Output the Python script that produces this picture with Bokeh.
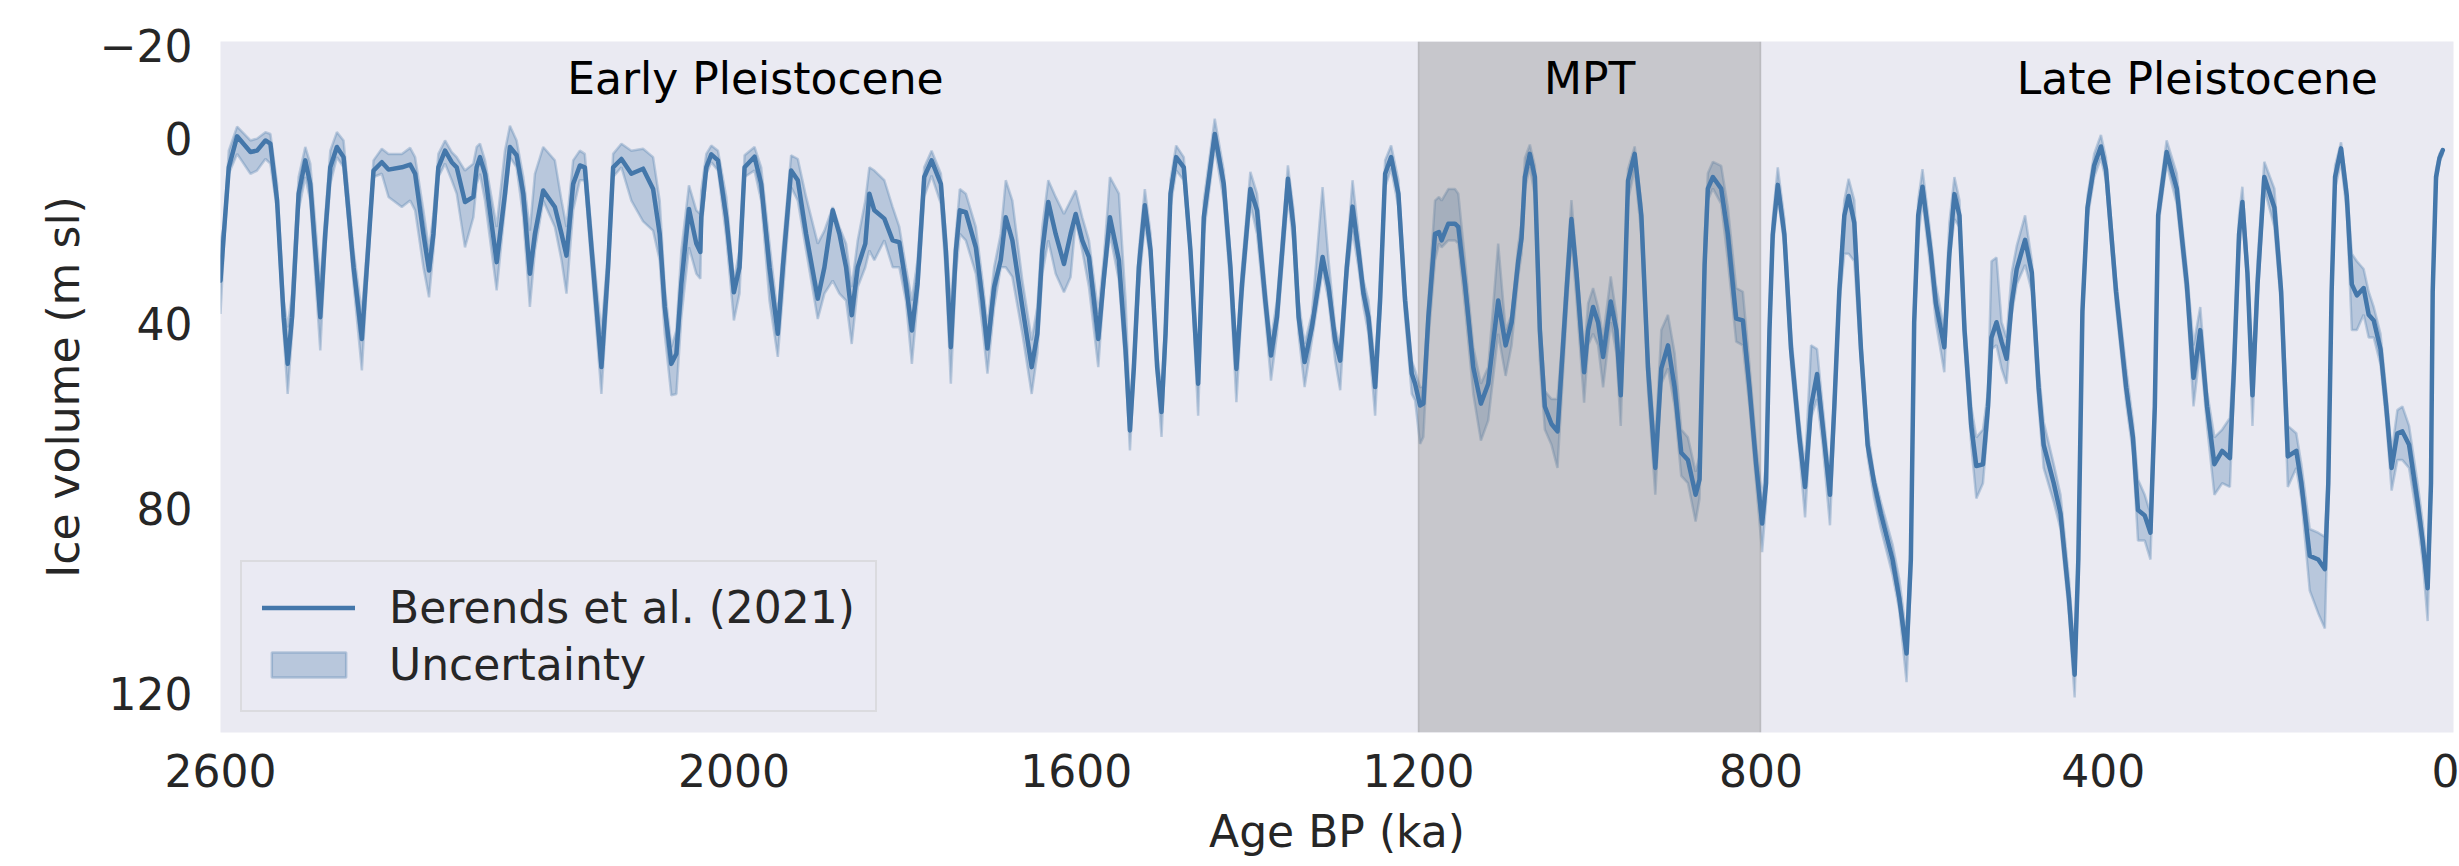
from bokeh.plotting import figure
from bokeh.models import Range1d, FixedTicker, Legend, LegendItem, Label
from bokeh.embed import file_html
from bokeh.resources import INLINE

# ---------------- data ----------------
AGE_KA = [
    2600.0, 2596.1, 2590.3, 2580.6, 2565.0, 2557.3, 2547.5, 2541.7, 2533.9, 2526.2,
    2521.5, 2516.4, 2508.7, 2500.9, 2495.1, 2483.4, 2477.6, 2471.7, 2464.0, 2456.2,
    2444.5, 2434.8, 2429.0, 2421.2, 2411.5, 2403.7, 2388.1, 2378.4, 2372.6, 2362.9,
    2356.3, 2351.2, 2345.4, 2337.6, 2329.8, 2324.0, 2314.3, 2304.5, 2300.7, 2296.8,
    2290.9, 2277.3, 2267.6, 2261.8, 2254.0, 2246.2, 2238.5, 2232.6, 2222.9, 2209.3,
    2201.5, 2195.7, 2187.9, 2180.1, 2174.3, 2164.6, 2154.9, 2147.1, 2141.2, 2131.5,
    2119.9, 2106.2, 2094.5, 2086.8, 2080.9, 2073.2, 2067.3, 2061.5, 2052.6, 2044.0,
    2039.3, 2038.2, 2032.3, 2026.5, 2018.7, 2009.0, 2000.1, 1993.5, 1987.6, 1976.0,
    1968.2, 1958.5, 1948.8, 1942.9, 1933.2, 1925.4, 1915.7, 1902.1, 1894.3, 1884.6,
    1876.8, 1869.0, 1862.4, 1855.4, 1846.5, 1841.8, 1836.0, 1824.3, 1814.6, 1806.8,
    1799.1, 1792.1, 1785.5, 1777.7, 1769.1, 1758.2, 1752.4, 1746.6, 1740.7, 1736.1,
    1729.1, 1717.4, 1709.6, 1703.8, 1696.0, 1688.3, 1682.4, 1674.7, 1663.0, 1652.1,
    1645.5, 1639.7, 1632.7, 1624.1, 1614.4, 1606.6, 1600.7, 1593.0, 1585.2, 1574.3,
    1567.7, 1560.7, 1550.2, 1542.4, 1537.3, 1532.7, 1526.9, 1519.9, 1513.2, 1505.5,
    1500.4, 1495.7, 1489.9, 1483.3, 1474.4, 1466.6, 1457.6, 1451.0, 1438.2, 1427.7,
    1419.9, 1412.9, 1406.3, 1396.6, 1388.8, 1379.1, 1372.5, 1365.5, 1352.7, 1346.1,
    1340.2, 1333.2, 1324.7, 1312.2, 1305.2, 1297.5, 1291.6, 1283.9, 1277.2, 1270.3,
    1264.4, 1258.6, 1250.8, 1245.0, 1239.1, 1232.1, 1223.6, 1215.8, 1208.0, 1204.1,
    1198.3, 1194.4, 1188.6, 1180.8, 1176.2, 1173.1, 1165.3, 1157.5, 1153.6, 1145.8,
    1136.1, 1127.2, 1118.6, 1107.0, 1098.3, 1091.3, 1083.6, 1079.7, 1075.8, 1070.0,
    1064.1, 1058.3, 1052.5, 1044.7, 1037.7, 1033.0, 1027.2, 1021.4, 1015.5, 1006.6,
    1001.9, 996.1, 990.3, 984.4, 975.5, 968.9, 963.8, 959.2, 955.3, 947.5,
    939.7, 931.9, 923.4, 916.4, 908.6, 900.8, 893.1, 885.3, 876.3, 871.7,
    865.8, 862.0, 856.1, 846.4, 838.6, 828.9, 821.1, 813.4, 805.6, 798.6,
    794.0, 790.0, 786.2, 780.3, 772.6, 764.8, 755.0, 748.4, 741.4, 734.4,
    727.8, 719.3, 714.2, 708.4, 702.5, 697.5, 690.9, 683.1, 675.3, 667.6,
    659.8, 646.2, 638.4, 629.8, 624.8, 620.9, 616.2, 611.2, 601.4, 595.6,
    585.7, 579.8, 573.9, 568.0, 562.1, 554.2, 548.3, 540.5, 534.6, 530.6,
    524.7, 518.8, 512.9, 507.0, 501.1, 491.3, 483.4, 475.5, 469.6, 457.8,
    449.9, 440.1, 433.4, 429.1, 424.3, 418.4, 410.6, 402.7, 396.8, 385.0,
    373.2, 365.3, 359.4, 351.5, 344.8, 339.7, 335.8, 325.9, 314.1, 302.3,
    294.5, 286.6, 278.7, 270.1, 261.0, 252.0, 247.2, 241.3, 237.4, 231.5,
    225.6, 219.7, 211.8, 200.0, 192.1, 184.3, 174.4, 168.5, 158.7, 148.8,
    141.0, 137.0, 133.1, 129.1, 122.1, 115.4, 109.5, 103.6, 95.7, 89.8,
    83.9, 76.0, 69.3, 63.0, 56.3, 50.4, 42.6, 32.7, 26.8, 20.9,
    17.0, 15.0, 11.1, 7.1, 3.2,
]

ICE_MEAN = [
    30.8, 20.7, 6.3, -0.4, 3.0, 2.7, 0.5, 1.2, 13.5, 38.7,
    48.8, 38.7, 12.0, 4.8, 9.9, 38.7, 20.7, 6.3, 1.9, 4.1,
    27.9, 43.4, 27.9, 7.0, 5.2, 6.8, 6.3, 5.7, 7.7, 20.7,
    28.6, 20.7, 6.3, 2.7, 5.2, 6.3, 13.8, 12.7, 6.3, 4.1,
    7.7, 26.8, 12.0, 1.9, 3.7, 12.0, 29.3, 20.7, 11.3, 14.9,
    20.7, 25.4, 9.9, 5.9, 6.3, 27.9, 49.5, 27.9, 6.3, 4.5,
    7.7, 6.6, 11.0, 20.7, 36.5, 48.8, 46.6, 31.5, 15.3, 22.8,
    24.6, 17.1, 6.3, 3.5, 4.8, 17.1, 33.3, 27.9, 6.3, 4.0,
    9.9, 27.9, 42.3, 27.9, 7.0, 9.1, 20.7, 34.7, 27.9, 15.6,
    20.7, 27.9, 38.3, 27.9, 22.8, 12.0, 15.6, 17.4, 22.1, 22.5,
    31.5, 41.6, 31.5, 8.4, 4.8, 9.9, 24.3, 45.2, 24.3, 15.6,
    16.0, 23.6, 35.1, 45.5, 32.2, 26.4, 17.1, 22.1, 36.5, 49.5,
    42.3, 24.3, 13.8, 20.7, 27.2, 20.7, 16.4, 22.1, 25.7, 43.4,
    30.0, 17.1, 26.4, 45.9, 63.2, 49.5, 27.9, 14.5, 24.3, 49.5,
    59.2, 42.3, 12.0, 4.1, 6.3, 24.3, 53.1, 17.1, -0.9, 9.9,
    27.9, 49.9, 31.5, 11.0, 15.6, 35.1, 47.0, 38.7, 8.8, 19.2,
    38.7, 48.4, 40.9, 25.7, 32.2, 43.7, 48.1, 27.9, 14.8, 24.3,
    33.6, 38.7, 53.8, 35.1, 7.7, 4.1, 12.0, 35.1, 50.9, 53.1,
    57.8, 57.4, 38.7, 20.7, 20.3, 22.1, 18.5, 18.5, 19.2, 31.5,
    49.5, 57.4, 53.1, 35.1, 44.8, 39.8, 26.6, 21.6, 8.4, 3.4,
    8.4, 41.5, 58.0, 61.8, 63.4, 49.8, 33.2, 17.5, 29.1, 50.6,
    41.5, 36.5, 39.8, 47.3, 35.3, 41.5, 55.6, 33.2, 9.2, 3.4,
    16.7, 49.8, 71.3, 49.8, 44.8, 53.9, 68.0, 69.6, 77.1, 73.8,
    27.4, 10.9, 8.4, 10.9, 20.8, 39.0, 39.4, 53.9, 70.5, 83.3,
    74.6, 41.5, 20.8, 10.1, 20.8, 45.6, 64.7, 75.4, 58.0, 51.0,
    62.2, 77.1, 58.0, 33.2, 16.7, 12.5, 18.3, 45.6, 66.3, 74.6,
    81.2, 91.1, 99.4, 111.4, 91.1, 39.8, 16.7, 10.5, 25.0, 35.7,
    45.2, 25.0, 12.1, 16.7, 41.5, 62.2, 70.9, 70.5, 58.0, 43.1,
    39.8, 44.0, 47.7, 35.7, 28.3, 22.0, 29.1, 53.9, 66.3, 74.6,
    81.2, 99.4, 116.0, 91.1, 37.4, 15.0, 5.9, 1.8, 6.7, 33.2,
    53.9, 64.7, 80.4, 81.6, 85.3, 58.0, 16.7, 3.0, 10.9, 31.6,
    51.8, 41.5, 58.0, 70.5, 67.6, 69.2, 49.8, 20.8, 13.8, 29.1,
    55.6, 31.6, 8.4, 15.0, 33.2, 68.8, 67.6, 74.6, 90.3, 91.1,
    93.2, 74.6, 33.2, 8.4, 2.2, 12.5, 31.6, 34.0, 32.4, 38.2,
    39.4, 45.6, 58.0, 71.3, 63.8, 63.4, 66.3, 78.7, 87.0, 97.3,
    74.6, 33.2, 8.4, 4.3, 2.6,
]

ICE_BAND_MIN = [
    22.1, 19.2, 2.7, -2.5, 0.5, 0.1, -1.3, -0.9, 9.9, 35.1,
    40.9, 33.6, 8.4, 1.9, 5.5, 31.5, 17.1, 2.7, -1.3, 0.5,
    24.3, 38.0, 24.3, 4.8, 2.3, 3.4, 3.4, 2.1, 4.1, 15.6,
    24.3, 16.4, 3.4, 0.5, 3.0, 4.1, 7.0, 5.5, 1.9, 1.2,
    4.8, 19.2, 2.7, -2.7, 0.5, 8.4, 20.0, 7.7, 1.9, 4.8,
    13.5, 19.2, 4.8, 2.7, 3.4, 24.3, 42.3, 24.3, 3.4, 1.2,
    2.7, 2.3, 4.1, 13.5, 32.2, 45.2, 41.6, 24.3, 10.2, 15.6,
    16.4, 11.3, 3.4, 1.6, 2.7, 12.7, 30.8, 24.3, 3.7, 1.9,
    6.3, 22.8, 38.7, 23.6, 3.7, 4.5, 12.7, 22.8, 20.0, 14.9,
    19.2, 22.8, 32.2, 22.1, 13.5, 6.3, 7.0, 9.1, 14.9, 19.2,
    27.9, 35.1, 26.4, 6.3, 2.7, 7.7, 20.7, 36.5, 20.7, 11.0,
    12.0, 19.2, 30.8, 40.9, 27.9, 20.7, 9.1, 13.5, 30.8, 43.7,
    36.5, 19.2, 9.1, 12.7, 16.4, 13.5, 11.3, 17.1, 22.1, 38.0,
    25.7, 8.4, 12.0, 35.1, 59.6, 46.6, 24.3, 11.0, 20.7, 46.6,
    55.3, 38.7, 9.1, 1.6, 4.1, 22.1, 49.5, 13.5, -4.2, 7.0,
    25.0, 45.9, 27.9, 7.3, 12.0, 31.5, 43.7, 35.1, 5.9, 15.6,
    35.1, 44.5, 38.0, 10.6, 26.4, 40.9, 45.2, 25.0, 9.1, 20.7,
    30.8, 35.1, 49.5, 31.5, 4.8, 1.6, 9.1, 32.2, 48.1, 50.2,
    53.8, 53.8, 35.1, 13.5, 12.7, 13.5, 11.0, 11.0, 12.0, 26.4,
    45.2, 53.1, 49.5, 22.8, 41.5, 38.2, 23.3, 18.3, 4.3, 1.4,
    6.0, 38.2, 54.7, 56.4, 56.4, 45.6, 29.1, 13.4, 26.6, 46.5,
    35.7, 32.4, 36.5, 43.1, 29.9, 38.2, 49.8, 29.9, 6.7, 1.8,
    14.2, 46.5, 66.3, 41.5, 38.2, 46.5, 63.0, 64.7, 72.1, 68.8,
    21.6, 7.6, 5.1, 6.0, 15.0, 32.4, 33.2, 49.0, 66.3, 77.9,
    70.5, 38.2, 17.5, 6.3, 17.5, 42.3, 61.3, 71.3, 44.8, 45.6,
    58.0, 73.8, 54.7, 30.7, 13.4, 8.8, 13.4, 43.1, 63.0, 73.0,
    78.7, 87.8, 95.3, 107.7, 87.0, 36.5, 13.4, 6.7, 21.6, 31.6,
    41.5, 18.3, 8.4, 13.4, 38.2, 58.0, 64.7, 63.0, 54.7, 26.6,
    25.8, 39.8, 43.1, 29.1, 23.3, 16.7, 26.6, 49.8, 61.3, 70.5,
    77.1, 95.3, 111.8, 87.0, 34.9, 12.5, 3.4, -0.7, 4.3, 30.7,
    49.8, 61.3, 73.8, 77.1, 81.2, 54.7, 14.2, 0.5, 7.6, 28.3,
    44.8, 36.5, 54.7, 64.7, 63.0, 60.5, 45.6, 16.7, 10.5, 26.6,
    53.1, 26.6, 5.1, 10.9, 29.9, 62.2, 63.8, 70.5, 84.5, 85.3,
    86.2, 71.3, 30.7, 6.0, 0.9, 10.1, 25.0, 26.6, 28.3, 33.2,
    36.5, 42.3, 54.7, 68.0, 58.8, 58.0, 62.2, 74.6, 82.9, 93.6,
    71.3, 31.6, 6.7, 3.4, 2.2,
]

ICE_BAND_MAX = [
    38.0, 23.6, 7.7, 3.4, 7.7, 7.0, 4.5, 5.5, 15.6, 42.3,
    55.3, 42.3, 15.6, 8.4, 13.5, 45.9, 24.3, 9.9, 4.1, 6.3,
    31.5, 50.2, 31.5, 8.4, 7.7, 12.7, 14.9, 13.5, 15.6, 27.9,
    34.4, 24.3, 8.4, 5.5, 9.1, 12.0, 23.6, 17.1, 9.9, 7.7,
    13.5, 32.9, 14.9, 4.1, 6.3, 17.1, 36.5, 24.3, 13.5, 19.2,
    26.4, 33.6, 15.6, 9.1, 9.1, 32.2, 55.3, 32.2, 8.4, 6.3,
    13.5, 18.0, 20.0, 26.4, 42.3, 55.6, 55.3, 38.7, 23.6, 29.3,
    30.4, 20.7, 7.7, 5.2, 7.0, 21.4, 39.4, 33.6, 8.4, 7.0,
    13.5, 35.1, 47.3, 33.6, 10.6, 13.5, 24.3, 39.1, 33.6, 30.8,
    33.6, 35.1, 44.5, 32.2, 27.9, 24.3, 26.4, 22.1, 27.9, 27.9,
    35.1, 48.8, 35.1, 12.7, 8.1, 14.2, 29.3, 53.1, 29.3, 20.7,
    22.1, 29.3, 40.9, 50.9, 36.5, 27.9, 27.9, 30.0, 42.3, 55.3,
    46.6, 29.3, 22.1, 29.3, 33.3, 30.0, 17.8, 24.3, 32.2, 49.5,
    32.2, 20.7, 30.8, 49.5, 67.5, 51.7, 32.2, 18.5, 26.4, 51.7,
    64.6, 45.9, 14.9, 7.0, 9.1, 25.7, 60.0, 20.7, 1.9, 13.5,
    32.2, 57.1, 35.1, 14.2, 20.7, 38.7, 52.4, 42.3, 12.7, 22.8,
    42.3, 53.8, 43.7, 28.6, 35.1, 48.1, 54.5, 30.8, 20.0, 27.9,
    36.5, 42.3, 60.0, 38.7, 10.6, 6.6, 14.9, 38.7, 55.3, 56.7,
    66.1, 64.6, 43.7, 26.4, 22.8, 23.6, 22.1, 22.1, 22.8, 36.5,
    55.3, 65.4, 61.0, 42.3, 51.4, 44.8, 29.9, 25.0, 10.9, 6.3,
    12.5, 48.1, 63.0, 66.3, 71.3, 56.4, 38.2, 21.6, 34.9, 57.2,
    44.8, 42.3, 44.8, 53.9, 39.8, 46.5, 62.2, 36.5, 13.4, 6.7,
    20.8, 54.7, 77.1, 53.1, 49.8, 58.0, 73.0, 74.6, 82.9, 77.9,
    31.6, 13.4, 10.9, 14.2, 26.6, 44.0, 44.8, 58.0, 74.6, 89.5,
    78.7, 44.8, 24.1, 12.5, 23.3, 49.0, 68.0, 82.0, 60.5, 56.4,
    66.3, 83.7, 61.3, 35.7, 25.0, 25.0, 26.6, 48.1, 68.8, 77.9,
    84.5, 94.4, 101.9, 117.6, 95.3, 43.1, 21.6, 13.4, 29.1, 39.8,
    50.6, 26.6, 17.5, 19.2, 44.8, 66.3, 77.9, 74.6, 61.3, 45.6,
    44.8, 49.8, 53.1, 38.2, 31.6, 27.4, 33.2, 58.0, 71.3, 78.7,
    84.5, 102.7, 120.9, 95.3, 39.8, 17.5, 8.4, 4.3, 9.2, 36.5,
    57.2, 68.0, 87.0, 87.0, 91.1, 61.3, 19.2, 5.5, 14.2, 34.9,
    58.0, 45.6, 62.2, 77.1, 74.6, 75.4, 53.9, 25.0, 16.7, 31.6,
    62.2, 34.9, 10.9, 19.2, 36.5, 75.4, 71.3, 77.9, 97.8, 102.7,
    106.0, 78.7, 35.7, 10.9, 5.1, 15.8, 41.5, 41.5, 38.2, 43.1,
    43.1, 48.9, 61.3, 76.2, 69.6, 69.6, 71.3, 82.9, 91.1, 104.4,
    77.9, 34.9, 10.1, 5.1, 3.4,
]

X_TICKS = [2600, 2000, 1600, 1200, 800, 400, 0]
Y_TICKS = [-20, 0, 40, 80, 120]
MPT_START_KA = 1200
MPT_END_KA = 800
PERIOD_NAMES = ["Early Pleistocene", "MPT", "Late Pleistocene"]
PERIOD_LABEL_AGE = [1975, 1000, 290]
SERIES_LABELS = ["Berends et al. (2021)", "Uncertainty"]

# ---------------- styling ----------------
BLUE = "#4477AA"
TXT = "#262626"
FONT = "DejaVu Sans"
FS = "44px"

p = figure(
    width=2459, height=866,
    output_backend="svg", toolbar_location=None,
    x_range=Range1d(2600, -9.3), y_range=Range1d(128.5, -20.9),
    min_border_left=220, min_border_right=6,
    min_border_top=41, min_border_bottom=134,
    background_fill_color="#EAEAF2", border_fill_color="white",
    outline_line_color=None,
)
p.xgrid.visible = False
p.ygrid.visible = False

band_x = AGE_KA + AGE_KA[::-1]
band_y = ICE_BAND_MIN + ICE_BAND_MAX[::-1]
band_r = p.patch(band_x, band_y, fill_color=BLUE, fill_alpha=0.3,
                 line_color=BLUE, line_alpha=0.3, line_width=2.5)

p.vstrip(x0=[MPT_START_KA], x1=[MPT_END_KA], fill_color="#808080", fill_alpha=0.33,
         line_color="#808080", line_alpha=0.33, line_width=1.5)

line_r = p.line(AGE_KA, ICE_MEAN, line_color=BLUE, line_width=4.5,
                line_join="round", line_cap="round")

for name, age in zip(PERIOD_NAMES, PERIOD_LABEL_AGE):
    p.add_layout(Label(x=age, y=-13, text=name, text_font=FONT, text_font_size=FS,
                       text_color="black", text_align="center",
                       text_baseline="alphabetic"))

# axes
for ax in (p.xaxis, p.yaxis):
    ax.axis_line_color = None
    ax.major_tick_line_color = None
    ax.minor_tick_line_color = None
    ax.major_tick_out = 0
    ax.major_tick_in = 0
    ax.major_label_text_font = FONT
    ax.major_label_text_font_size = FS
    ax.major_label_text_color = TXT
    ax.axis_label_text_font = FONT
    ax.axis_label_text_font_size = FS
    ax.axis_label_text_color = TXT
    ax.axis_label_text_font_style = "normal"

p.xaxis.ticker = FixedTicker(ticks=X_TICKS)
p.yaxis.ticker = FixedTicker(ticks=Y_TICKS)
p.yaxis.major_label_overrides = {-20: "\u221220"}
p.xaxis.axis_label = "Age BP (ka)"
p.yaxis.axis_label = "Ice volume (m sl)"
p.xaxis.major_label_standoff = 21
p.xaxis.axis_label_standoff = 16
p.yaxis.major_label_standoff = 28
p.yaxis.axis_label_standoff = 8

legend = Legend(
    items=[LegendItem(label=SERIES_LABELS[0], renderers=[line_r]),
           LegendItem(label=SERIES_LABELS[1], renderers=[band_r])],
    location=(20, 20),
    label_text_font=FONT, label_text_font_size=FS, label_text_color=TXT,
    glyph_width=93, glyph_height=31, label_standoff=34,
    padding=20, spacing=6, margin=0,
    border_line_color="#CCCCCC", border_line_width=2,
    background_fill_color="#EAEAF2", background_fill_alpha=0.8,
)
p.add_layout(legend)

open("out.html", "w").write(file_html(p, INLINE))
